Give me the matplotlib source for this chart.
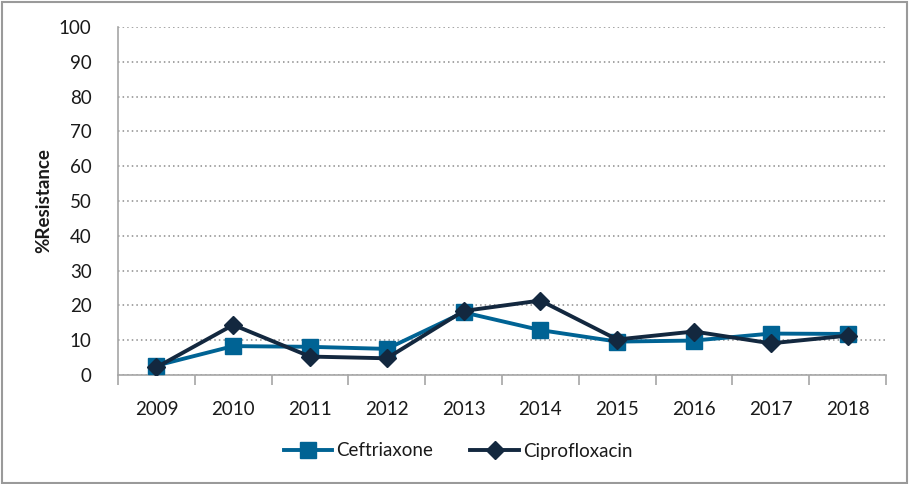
import numpy as np
import matplotlib
matplotlib.use("Agg")
import matplotlib.pyplot as plt
from matplotlib.patches import Rectangle

years = ["2009", "2010", "2011", "2012", "2013", "2014", "2015", "2016", "2017", "2018"]
ceftriaxone = [2.7, 8.3, 8.1, 7.5, 18.0, 12.9, 9.6, 9.9, 11.9, 11.8]
ciprofloxacin = [2.2, 14.4, 5.3, 4.8, 18.4, 21.4, 10.2, 12.5, 9.1, 11.3]

plt.rcParams['font.family'] = ['Lato', 'DejaVu Sans']

cef_col = "#006394"
cip_col = "#13283f"
txt_col = "#1a1a1a"

fig = plt.figure(figsize=(9.09, 4.84), dpi=100)
ax = fig.add_axes([118/909, 1-375/484, (886-118)/909, (375-27)/484])

x = np.arange(len(years))
ax.plot(x, ceftriaxone, color=cef_col, lw=2.8, marker="s", markersize=12,
        label="Ceftriaxone", zorder=3)
ax.plot(x, ciprofloxacin, color=cip_col, lw=2.8, marker="D", markersize=9,
        label="Ciprofloxacin", zorder=4)

ax.set_xlim(-0.5, len(years) - 0.5)
ax.set_ylim(0, 100)
ax.set_yticks(np.arange(0, 101, 10))
ax.yaxis.grid(True, linestyle=(0, (1, 2)), color="#8c8c8c", lw=1.1)
ax.set_axisbelow(True)

ax.set_xticks(x)
ax.set_xticklabels(years)
ax.set_xticks(np.arange(-0.5, len(years), 1), minor=True)
ax.tick_params(axis="x", which="major", length=0, pad=19, labelsize=13.5, colors=txt_col)
ax.tick_params(axis="x", which="minor", length=7, color="#a6a6a6", width=1.2)
ax.tick_params(axis="y", length=0, pad=19, labelsize=13.5, colors=txt_col)

for s in ["top", "right"]:
    ax.spines[s].set_visible(False)
for s in ["left", "bottom"]:
    ax.spines[s].set_color("#a6a6a6")
    ax.spines[s].set_linewidth(1.2)

ax.set_ylabel("%Resistance", fontsize=13.5, fontweight="bold", color=txt_col, labelpad=5)

fig.legend(loc="center", bbox_to_anchor=(458/909, 1-451/484), ncol=2, frameon=False,
           fontsize=13.5, handlelength=2.6, columnspacing=2.0, handletextpad=0.2,
           labelcolor=txt_col)

# outer frame
fig.patches.append(Rectangle((0.002, 0.003), 0.996, 0.993, transform=fig.transFigure,
                             fill=False, edgecolor="#9a9a9a", lw=1.5))

fig.savefig("out.png", dpi=100)
